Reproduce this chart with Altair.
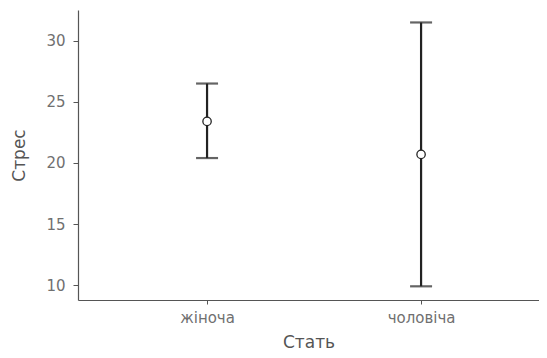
import altair as alt
import pandas as pd

categories = ["жіноча", "чоловіча"]
means = [23.4, 20.7]
lower = [20.4, 9.9]
upper = [26.5, 31.5]

df = pd.DataFrame({"idx": list(range(len(categories))), "Стать": categories,
                   "mean": means, "lo": lower, "hi": upper})

FONT = "DejaVu Sans"
yscale = alt.Scale(domain=[8.78, 32.52], nice=False, zero=False)
xscale = alt.Scale(domain=[-0.603, 1.551], nice=False, zero=False)
label_expr = "[" + ",".join("'%s'" % c for c in categories) + "][datum.value]"

xenc = alt.X("idx:Q", scale=xscale,
             axis=alt.Axis(title="Стать", values=list(range(len(categories))),
                           labelExpr=label_expr, labelAngle=0, tickSize=4, labelPadding=6,
                           titleBaseline="alphabetic", titleY=47))

bars = alt.Chart(df).mark_errorbar(ticks=alt.MarkConfig(size=22, color="#222222", strokeWidth=2.2),
                                   color="#222222", thickness=2.2).encode(
    x=xenc,
    y=alt.Y("lo:Q", scale=yscale, axis=alt.Axis(title="Стрес", values=[10, 15, 20, 25, 30],
                                                 tickSize=5, labelPadding=8, titlePadding=17)),
    y2="hi:Q",
)

points = alt.Chart(df).mark_point(filled=True, fill="white", stroke="#222222",
                                  strokeWidth=1.3, size=70, shape="circle", opacity=1).encode(
    x=xenc,
    y=alt.Y("mean:Q", scale=yscale),
)

chart = (bars + points).properties(
    width=461, height=290,
    autosize=alt.AutoSizeParams(type="none"),
    padding={"left": 70, "top": 2, "right": 0, "bottom": 50},
).configure_view(stroke=None).configure_axis(
    grid=False,
    domainColor="#555555",
    domainWidth=1.2,
    tickColor="#555555",
    labelColor="#707070",
    titleColor="#555555",
    labelFont=FONT,
    titleFont=FONT,
    labelFontSize=15,
    titleFontSize=17,
    titleFontWeight="normal",
)

chart.save("out.html", embed_options={"renderer": "svg", "actions": False})
